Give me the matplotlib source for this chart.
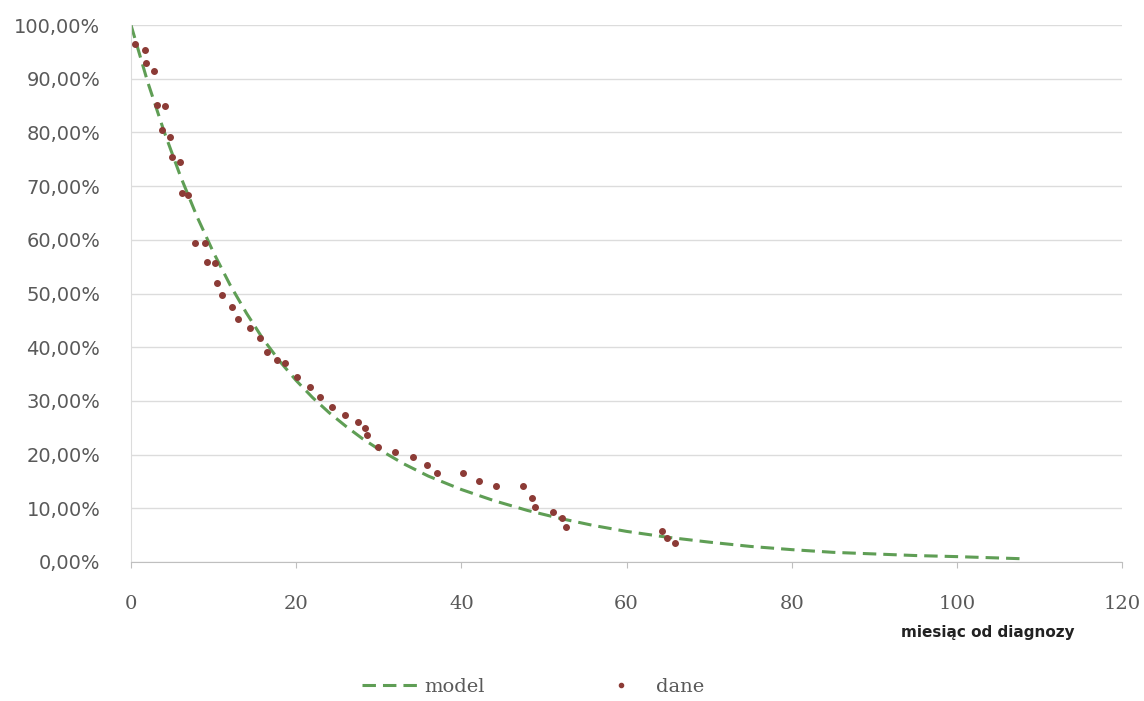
import matplotlib
matplotlib.use("Agg")
import matplotlib.pyplot as plt
from matplotlib.lines import Line2D
from matplotlib.ticker import FuncFormatter, MultipleLocator

# model curve (survival fraction)
model_months = [0, 2, 4, 6, 8, 10, 12, 14, 16, 18, 20, 22, 24, 26, 28, 30, 33, 36, 40,
                44, 48, 52, 56, 60, 65, 70, 75, 80, 85, 90, 95, 100, 104, 108]
model_values = [1.000, 0.895, 0.802, 0.718, 0.643, 0.576, 0.516, 0.463, 0.415, 0.374,
                0.338, 0.306, 0.278, 0.253, 0.230, 0.210, 0.183, 0.160, 0.135,
                0.114, 0.096, 0.081, 0.068, 0.057, 0.046, 0.037, 0.029, 0.023,
                0.018, 0.015, 0.012, 0.010, 0.008, 0.006]

# observed points ("dane")
data_months = [0.5, 1.7, 1.8, 2.8, 3.1, 4.1, 3.7, 4.7, 5.0, 5.9, 6.2, 6.9, 7.7, 9.0,
               9.2, 10.2, 10.4, 11.0, 12.2, 13.0, 14.4, 15.6, 16.5, 17.7, 18.6, 20.1,
               21.7, 22.9, 24.3, 25.9, 27.5, 28.3, 28.6, 29.9, 32.0, 34.1, 35.8, 37.0,
               40.2, 42.1, 44.2, 47.5, 48.5, 48.9, 51.1, 52.2, 52.7, 64.3, 64.9, 65.9]
data_values = [0.965, 0.953, 0.929, 0.914, 0.851, 0.849, 0.804, 0.791, 0.754, 0.745,
               0.687, 0.683, 0.594, 0.594, 0.559, 0.557, 0.520, 0.497, 0.475, 0.453,
               0.436, 0.417, 0.391, 0.376, 0.371, 0.345, 0.326, 0.307, 0.289, 0.274,
               0.261, 0.249, 0.236, 0.214, 0.205, 0.196, 0.181, 0.166, 0.166, 0.151,
               0.142, 0.142, 0.119, 0.102, 0.093, 0.082, 0.065, 0.058, 0.045, 0.035]

x_ticks = [0, 20, 40, 60, 80, 100, 120]

model_color = "#5f9e55"
data_color = "#8c3b36"
grid_color = "#dcdcdc"

fig = plt.figure(figsize=(11.44, 7.01), dpi=100)
ax = fig.add_axes([0.1145, 0.1983, 0.8663, 0.766])

ax.plot(model_months, model_values, color=model_color, lw=2.2,
        dashes=(4.4, 2.3), zorder=2, label="model")
ax.plot(data_months, data_values, ls="none", marker="o", ms=4,
        color=data_color, zorder=3, label="dane")

ax.set_xlim(0, 120)
ax.set_ylim(0, 1.0)
ax.set_xticks(x_ticks)
ax.yaxis.set_major_locator(MultipleLocator(0.1))
ax.yaxis.set_major_formatter(FuncFormatter(lambda v, p: f"{v*100:.2f}%".replace(".", ",")))

ax.grid(axis="y", color=grid_color, lw=1)
ax.set_axisbelow(True)
for s in ["top", "right"]:
    ax.spines[s].set_visible(False)
ax.spines["left"].set_color(grid_color)
ax.spines["bottom"].set_color("#bfbfbf")

ax.tick_params(axis="y", length=0, pad=22, labelsize=14, labelcolor="#595959")
ax.tick_params(axis="x", direction="out", length=4, color="#bfbfbf", pad=20,
               labelsize=14, labelcolor="#595959")
for lab in ax.get_xticklabels():
    lab.set_family("DejaVu Serif")

fig.text(988 / 1144, 1 - 632 / 701, "miesiąc od diagnozy", fontsize=11,
         fontweight="bold", color="#222222", ha="center", va="center")

handles = [Line2D([], [], color=model_color, lw=2.2, dashes=(4.4, 2.3)),
           Line2D([], [], ls="none", marker="o", ms=3, color=data_color)]
fig.legend(handles, ["model", "dane"], loc="center", bbox_to_anchor=(0.466, 0.02),
           ncol=2, frameon=False, handlelength=2.8, handletextpad=0.4,
           columnspacing=5.6, prop={"family": "DejaVu Serif", "size": 14},
           labelcolor="#595959")

fig.savefig("out.png", dpi=100)
